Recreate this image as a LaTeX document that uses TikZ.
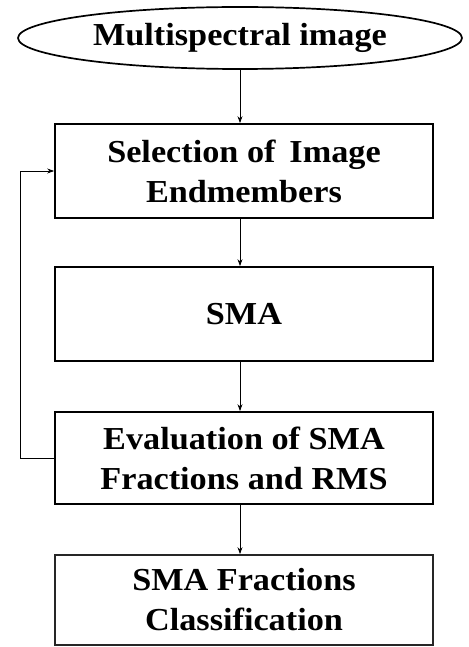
\documentclass[tikz,border=0pt]{standalone}
\usepackage{fontspec}
\setmainfont{Liberation Serif}[FakeStretch=1.07]
\usetikzlibrary{shapes.geometric,arrows.meta}
\begin{document}
\begin{tikzpicture}[x=1pt,y=-1pt,
  lbl/.style={font=\fontsize{32}{40}\selectfont\bfseries, align=center},
  stepbox/.style={draw, line width=1.7pt, minimum width=378pt, inner sep=0pt, lbl},
  arr/.style={line width=0.9pt, -{Stealth[length=7pt,width=5pt]}}
]
\useasboundingbox (0,0) rectangle (468,647);
\node[draw, ellipse, line width=1.7pt, minimum width=444pt, minimum height=62pt, inner sep=0pt, lbl] (img) at (240,38) {Multispectral image};
\node[stepbox, minimum height=94pt] (b1) at (244,171) {Selection of\, Image\\Endmembers};
\node[stepbox, minimum height=94pt] (b2) at (244,314) {SMA};
\node[stepbox, minimum height=92pt] (b3) at (244,458) {Evaluation of SMA\\Fractions and RMS};
\node[stepbox, minimum height=90pt, draw=black!85] (b4) at (244,600) {SMA Fractions\\Classification};
\draw[arr] (img.south) -- (img.south |- b1.north);
\draw[arr] (img.south |- b1.south) -- (img.south |- b2.north);
\draw[arr] (img.south |- b2.south) -- (img.south |- b3.north);
\draw[arr] (img.south |- b3.south) -- (img.south |- b4.north);
\draw[arr] (b3.west) -- ++(-34,0) |- (b1.west);
\end{tikzpicture}
\end{document}
